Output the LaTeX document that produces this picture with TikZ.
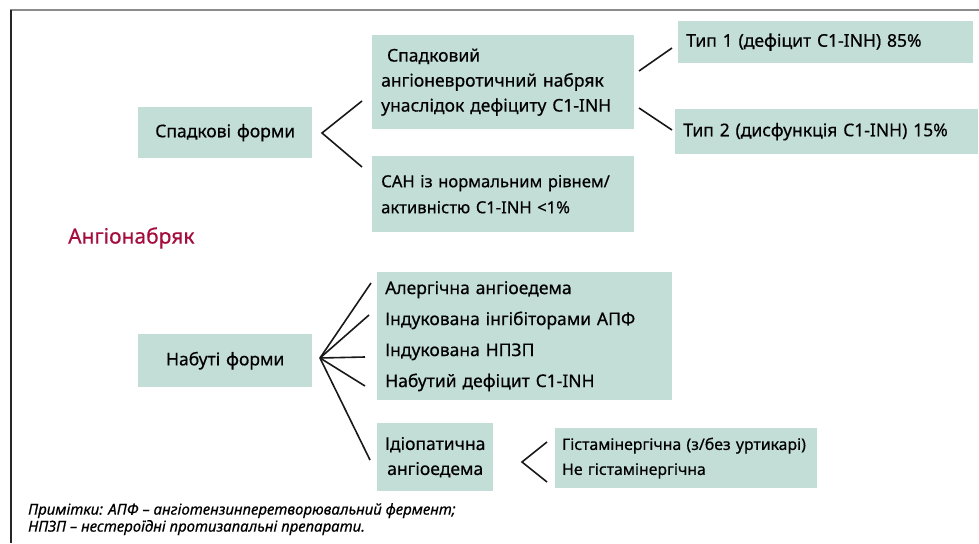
\documentclass[tikz,border=0pt]{standalone}
\usepackage{fontspec}
\setmainfont{Noto Sans}[FakeBold=0.5]
\usetikzlibrary{calc}
\definecolor{boxc}{RGB}{195,222,214}
\definecolor{titc}{RGB}{165,13,62}
\definecolor{framegray}{RGB}{140,140,140}
\begin{document}
\begin{tikzpicture}[x=1pt,y=-1pt,
  bx/.style={fill=boxc, anchor=north west, inner xsep=9pt, inner ysep=0pt, align=left,
    font=\fontsize{17.5}{25}\selectfont},
  bxc/.style={bx, align=center},
  ln/.style={line width=1.6pt, black!90}]
\useasboundingbox (0,0) rectangle (979,543);
\fill[white] (0,0) rectangle (979,543);
% frame
\draw[framegray, line width=2pt] (10,10.5) -- (979,10.5);
\draw[black!85, line width=2pt] (10.5,10) -- (10.5,543);
% hereditary
\node[bxc, text width=156pt, minimum height=51pt] (her) at (138,107) {Спадкові форми};
\node[bx, text width=244pt, minimum height=94pt] (sp) at (372,35) {\ Спадковий\\ангіоневротичний набряк\\унаслідок дефіциту C1-INH};
\node[bx, text width=244pt, minimum height=76pt, font=\fontsize{16.6}{26}\selectfont] (san) at (372,156) {\mbox{САН із нормальним рівнем/}\\активністю C1-INH <1\%};
\node[bx, inner xsep=8pt, text width=279pt, minimum height=42pt] (t1) at (678,21) {Тип 1 (дефіцит C1-INH) 85\%};
\node[bx, inner xsep=8pt, text width=287pt, minimum height=45pt] (t2) at (675,109) {Тип 2 (дисфункція C1-INH) 15\%};
% title
\node[anchor=west, inner sep=0pt, text=titc, font=\fontsize{21}{24}\selectfont] (title) at (68,238) {Ангіонабряк};
% acquired
\node[bxc, text width=156pt, minimum height=53pt] (acq) at (138,334) {Набуті форми};
\node[bx, inner xsep=8pt, text width=279pt, minimum height=128pt, font=\fontsize{17.5}{31}\selectfont] (list) at (377,272) {Алергічна ангіоедема\\Індукована інгібіторами АПФ\\Індукована НПЗП\\Набутий дефіцит C1-INH};
\node[bxc, inner xsep=4pt, text width=108pt, minimum height=68pt] (idio) at (377,423) {Ідіопатична\\ангіоедема};
\node[bx, inner xsep=7pt, text width=248pt, minimum height=60pt, font=\fontsize{15.8}{25}\selectfont] (hist) at (555,428) {\mbox{Гістамінергічна (з/без уртикарі)}\\Не гістамінергічна};
% notes
\node[anchor=north west, inner sep=0pt, align=left, font=\fontsize{15}{17}\itshape] (note) at (28,503) {Примітки: АПФ – ангіотензинперетворювальний фермент;\\НПЗП – нестероїдні протизапальні препарати.};
% connectors
\coordinate (v1) at (322,133);
\coordinate (s1) at (362,101);
\coordinate (s2) at (362,167);
\draw[ln] (s1) -- (v1) -- (s2);
\coordinate (a1) at (639,71);
\coordinate (b1) at (672,48);
\coordinate (a2) at (639,108);
\coordinate (b2) at (672,130);
\draw[ln] (a1) -- (b1);
\draw[ln] (a2) -- (b2);
\coordinate (v2) at (320,358);
\coordinate (f1) at (371,283);
\coordinate (f2) at (369,315);
\coordinate (f3) at (365,357);
\coordinate (f4) at (365,386);
\coordinate (f5) at (370,460);
\foreach \f in {f1,f2,f3,f4,f5} \draw[ln] (v2) -- (\f);
\coordinate (v3) at (522,462);
\coordinate (g1) at (547,442);
\coordinate (g2) at (547,482);
\draw[ln] (g1) -- (v3) -- (g2);
\end{tikzpicture}
\end{document}
